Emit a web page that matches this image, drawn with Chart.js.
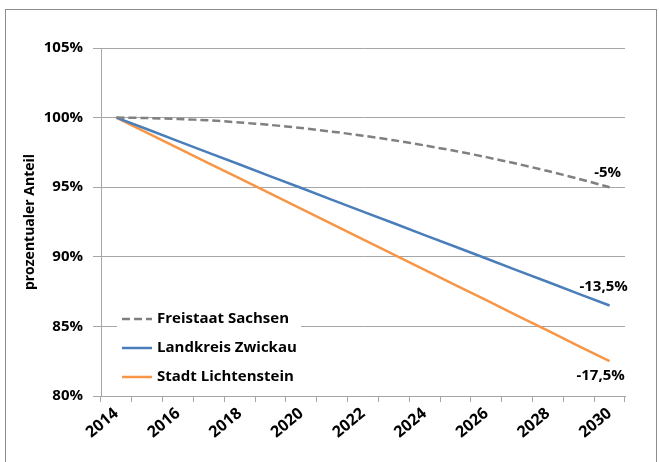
<!DOCTYPE html>
<html>
<head>
<meta charset="utf-8">
<script src="https://cdn.jsdelivr.net/npm/chart.js@4.4.0/dist/chart.umd.min.js"></script>
<style>
  html, body { margin: 0; padding: 0; background: #fff; }
  #wrap { position: relative; width: 659px; height: 462px; overflow: hidden; }
  #frame { position: absolute; left: 5px; top: 9px; width: 652px; height: 470px;
           border: 1px solid #8c8c8c; box-sizing: border-box; }
  canvas { position: absolute; left: 0; top: 0; }
</style>
</head>
<body>
<div id="wrap">
  <div id="frame"></div>
  <canvas id="chart" width="659" height="462"></canvas>
</div>
<script>
// Data
const years = ['2014','2015','2016','2017','2018','2019','2020','2021','2022',
               '2023','2024','2025','2026','2027','2028','2029','2030'];
const sachsen = [100, 99.97, 99.9, 99.8, 99.65, 99.47, 99.25, 98.99, 98.7,
                 98.37, 98.0, 97.6, 97.16, 96.68, 96.16, 95.6, 95.0];
const zwickau = [100, 99.16, 98.31, 97.47, 96.63, 95.78, 94.94, 94.09, 93.25,
                 92.41, 91.56, 90.72, 89.88, 89.03, 88.19, 87.34, 86.5];
const lichtenstein = [100, 98.91, 97.81, 96.72, 95.63, 94.53, 93.44, 92.34, 91.25,
                      90.16, 89.06, 87.97, 86.88, 85.78, 84.69, 83.59, 82.5];
const seriesNames = ['Freistaat Sachsen', 'Landkreis Zwickau', 'Stadt Lichtenstein'];
const endLabels = ['-5%', '-13,5%', '-17,5%'];

const FONT = '"Open Sans", Lato, sans-serif';
const GRID = '#a6a6a6';

// end-of-line labels
const endLabelPlugin = {
  id: 'endLabels',
  afterDatasetsDraw(chart) {
    const ctx = chart.ctx;
    const offs = [[-2, -14], [-6, -19], [-9, 15]];
    ctx.save();
    ctx.font = 'bold 15px ' + FONT;
    ctx.fillStyle = '#000';
    ctx.textAlign = 'center';
    ctx.textBaseline = 'middle';
    chart.data.datasets.forEach((ds, i) => {
      const meta = chart.getDatasetMeta(i);
      const pt = meta.data[meta.data.length - 1];
      ctx.fillText(endLabels[i], pt.x + offs[i][0], pt.y + offs[i][1]);
    });
    ctx.restore();
  }
};

// legend inside the plot, bottom left
const boxLegendPlugin = {
  id: 'boxLegend',
  afterDatasetsDraw(chart) {
    const ctx = chart.ctx;
    const a = chart.chartArea;
    const x0 = a.left + 16, y0 = a.bottom - 94;
    ctx.save();
    ctx.fillStyle = '#fff';
    ctx.fillRect(x0, y0, 184, 92);
    ctx.font = 'bold 15px ' + FONT;
    ctx.textBaseline = 'middle';
    chart.data.datasets.forEach((ds, i) => {
      const y = y0 + 17 + i * 29;
      ctx.beginPath();
      ctx.strokeStyle = ds.borderColor;
      ctx.lineWidth = ds.borderWidth;
      ctx.setLineDash(ds.borderDash || []);
      ctx.moveTo(x0 + 5, y);
      ctx.lineTo(x0 + 35, y);
      ctx.stroke();
      ctx.setLineDash([]);
      ctx.fillStyle = '#000';
      ctx.fillText(ds.label, x0 + 40, y);
    });
    ctx.restore();
  }
};

new Chart(document.getElementById('chart'), {
  type: 'line',
  data: {
    labels: years,
    datasets: [
      { label: seriesNames[0], data: sachsen, borderColor: '#808080', borderWidth: 2.5,
        borderDash: [8, 4], pointRadius: 0, tension: 0.3 },
      { label: seriesNames[1], data: zwickau, borderColor: '#4a7ebb', borderWidth: 2.5,
        pointRadius: 0 },
      { label: seriesNames[2], data: lichtenstein, borderColor: '#f79646', borderWidth: 2.5,
        pointRadius: 0 }
    ]
  },
  options: {
    responsive: false,
    animation: false,
    layout: { padding: { top: 48, right: 34, left: 22, bottom: 0 } },
    plugins: { legend: { display: false }, tooltip: { enabled: false } },
    scales: {
      x: {
        offset: true,
        grid: { offset: true, drawOnChartArea: false, tickLength: 6, color: GRID },
        border: { color: GRID },
        ticks: {
          autoSkip: false, minRotation: 40, maxRotation: 40, padding: 2,
          color: '#000', font: { family: FONT, size: 16, weight: 'bold' },
          callback: (v, i) => (i % 2 === 0 ? years[i] : '')
        },
        afterFit: (s) => { s.height = 66; }
      },
      y: {
        min: 80, max: 105,
        grid: { color: GRID, tickLength: 8 },
        border: { color: GRID },
        ticks: {
          stepSize: 5, padding: 10, color: '#000',
          font: { family: FONT, size: 15, weight: 'bold' },
          callback: (v) => v + '%'
        },
        title: {
          display: true, text: 'prozentualer Anteil', color: '#000',
          font: { family: FONT, size: 14, weight: 'bold' }, padding: 0
        },
        afterFit: (s) => { s.width = 79; }
      }
    }
  },
  plugins: [endLabelPlugin, boxLegendPlugin]
});
</script>
</body>
</html>
